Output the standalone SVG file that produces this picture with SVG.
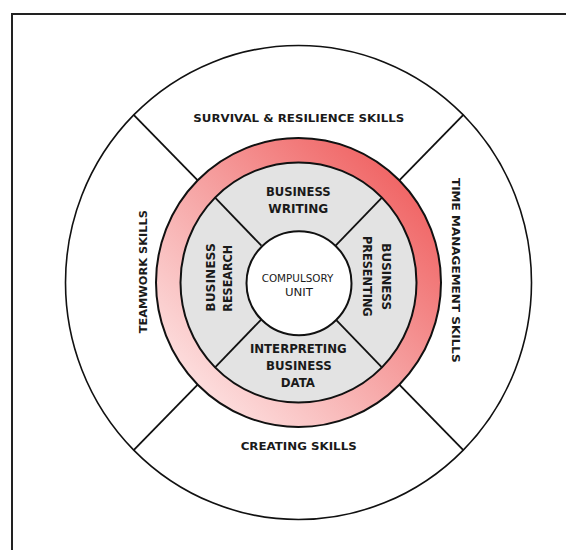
<svg xmlns="http://www.w3.org/2000/svg" width="566" height="550" viewBox="0 0 566 550">
<defs>
<linearGradient id="redGrad" x1="1" y1="0" x2="0" y2="1">
<stop offset="0" stop-color="#ee4e4e"/>
<stop offset="0.45" stop-color="#f59a9a"/>
<stop offset="1" stop-color="#fff4f4"/>
</linearGradient>
<style>
.lbl{font-family:"DejaVu Sans","Liberation Sans",sans-serif;font-weight:bold;font-size:11px;fill:#1a1a1a;text-anchor:middle}
.in{font-size:11.5px}
.core{font-family:"DejaVu Sans","Liberation Sans",sans-serif;font-size:11px;fill:#1a1a1a;text-anchor:middle}
.ln{stroke:#111;stroke-width:1.8;fill:none}
</style>
</defs>
<rect width="566" height="550" fill="#fff"/>
<rect id="frame" x="12" y="14" width="600" height="600" fill="none" stroke="#222" stroke-width="2"/>
<g id="outer-ring">
<ellipse cx="298.5" cy="282.5" rx="233" ry="237" fill="#fff" stroke="#111" stroke-width="1.6"/>
</g>
<g id="red-ring">
<ellipse cx="298.5" cy="282.5" rx="142.5" ry="144.5" fill="url(#redGrad)" stroke="#111" stroke-width="2"/>
</g>
<g id="gray-ring">
<ellipse cx="298.5" cy="282.5" rx="118" ry="120" fill="#e3e3e3" stroke="#111" stroke-width="2"/>
</g>
<g id="connectors">
<line class="ln" x1="197.7" y1="180.3" x2="133.7" y2="114.9"/>
<line class="ln" x1="399.3" y1="180.3" x2="463.3" y2="114.9"/>
<line class="ln" x1="197.7" y1="384.7" x2="133.7" y2="450.1"/>
<line class="ln" x1="399.3" y1="384.7" x2="463.3" y2="450.1"/>
<line class="ln" x1="215.1" y1="197.6" x2="261.4" y2="245.7"/>
<line class="ln" x1="381.9" y1="197.6" x2="335.6" y2="245.7"/>
<line class="ln" x1="215.1" y1="367.4" x2="261.4" y2="319.3"/>
<line class="ln" x1="381.9" y1="367.4" x2="335.6" y2="319.3"/>
</g>
<g id="compulsory-unit">
<ellipse cx="299" cy="283.3" rx="52.5" ry="52" fill="#fff" stroke="#111" stroke-width="2"/>
<text class="core" x="297.5" y="281.7" textLength="71.6" lengthAdjust="spacingAndGlyphs">COMPULSORY</text>
<text class="core" x="299" y="295.7" textLength="28" lengthAdjust="spacingAndGlyphs">UNIT</text>
</g>
<g id="survival">
<text class="lbl" x="298.8" y="121.7" textLength="211" lengthAdjust="spacingAndGlyphs">SURVIVAL &amp; RESILIENCE SKILLS</text>
</g>
<g id="creating">
<text class="lbl" x="298.7" y="449.7" textLength="116" lengthAdjust="spacingAndGlyphs">CREATING SKILLS</text>
</g>
<g id="teamwork">
<text class="lbl" transform="translate(146.7 271.7) rotate(-90)" textLength="123" lengthAdjust="spacingAndGlyphs">TEAMWORK SKILLS</text>
</g>
<g id="time-management">
<text class="lbl" transform="translate(451.7 270.3) rotate(90)" textLength="184.7" lengthAdjust="spacingAndGlyphs">TIME MANAGEMENT SKILLS</text>
</g>
<g id="business-writing">
<text class="lbl in" x="298.3" y="195.7" textLength="64.7" lengthAdjust="spacingAndGlyphs">BUSINESS</text>
<text class="lbl in" x="298.3" y="213.4" textLength="60" lengthAdjust="spacingAndGlyphs">WRITING</text>
</g>
<g id="interpreting-data">
<text class="lbl in" x="298.3" y="353.3" textLength="96.7" lengthAdjust="spacingAndGlyphs">INTERPRETING</text>
<text class="lbl in" x="298.8" y="369.5" textLength="65.7" lengthAdjust="spacingAndGlyphs">BUSINESS</text>
<text class="lbl in" x="297.8" y="387.3" textLength="34.3" lengthAdjust="spacingAndGlyphs">DATA</text>
</g>
<g id="business-research">
<text class="lbl in" transform="translate(215 277.5) rotate(-90)" textLength="68.4" lengthAdjust="spacingAndGlyphs">BUSINESS</text>
<text class="lbl in" transform="translate(232.3 278.3) rotate(-90)" textLength="66.7" lengthAdjust="spacingAndGlyphs">RESEARCH</text>
</g>
<g id="business-presenting">
<text class="lbl in" transform="translate(381.7 276.7) rotate(90)" textLength="66.7" lengthAdjust="spacingAndGlyphs">BUSINESS</text>
<text class="lbl in" transform="translate(363.3 276.3) rotate(90)" textLength="80.7" lengthAdjust="spacingAndGlyphs">PRESENTING</text>
</g>
</svg>
